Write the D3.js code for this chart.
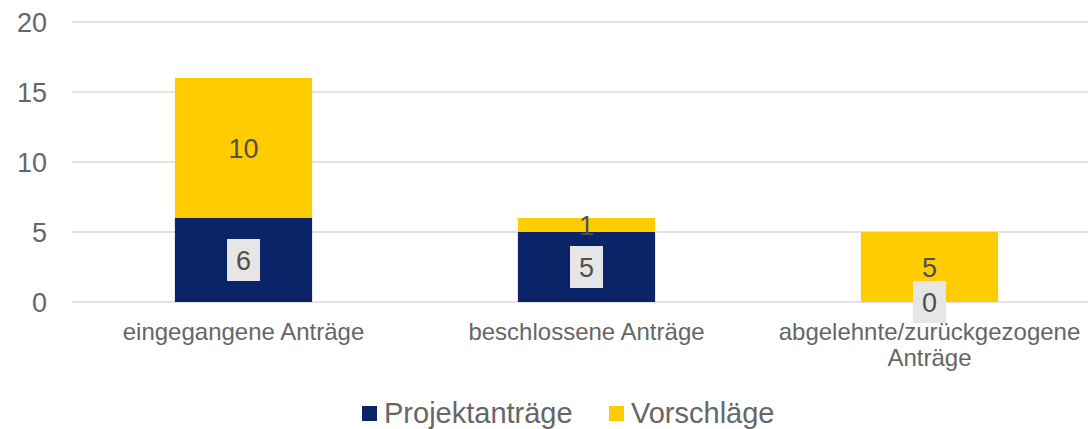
<!DOCTYPE html>
<html>
<head>
<meta charset="utf-8">
<script src="https://cdn.jsdelivr.net/npm/d3@7"></script>
<style>
  body { margin: 0; background: #fff; }
  text { font-family: "Liberation Sans", Arial, sans-serif; }
</style>
</head>
<body>
<svg id="chart" width="1088" height="429"></svg>
<script>
const categories = ["eingegangene Anträge", "beschlossene Anträge", "abgelehnte/zurückgezogene Anträge"]
const projektantraege = [6, 5, 0]
const vorschlaege = [10, 1, 5]
const yTicks = [0, 5, 10, 15, 20]
const seriesNames = ["Projektanträge", "Vorschläge"]

const colors = ["#0b2468", "#ffcc00"]
const textColor = "#666666"

const svg = d3.select("#chart")

const x = d3.scaleBand()
    .domain(categories)
    .range([72, 1101])
    .paddingInner(0.6)
    .paddingOuter(0.3)

const y = d3.scaleLinear()
    .domain([0, 20])
    .range([302, 22])

//gridlines + y labels
const grid = svg.append("g")
grid.selectAll("line")
    .data(yTicks)
    .join("line")
    .attr("x1", 72)
    .attr("x2", 1088)
    .attr("y1", d => y(d))
    .attr("y2", d => y(d))
    .attr("stroke", "#d9d9d9")
    .attr("stroke-width", 1.5)

grid.selectAll("text")
    .data(yTicks)
    .join("text")
    .attr("x", 47)
    .attr("y", d => y(d))
    .attr("dy", "0.36em")
    .attr("text-anchor", "end")
    .attr("font-size", 27)
    .attr("fill", textColor)
    .text(d => d)

const rows = categories.map((c, i) => ({cat: c, Projektanträge: projektantraege[i], Vorschläge: vorschlaege[i]}))
const stacked = d3.stack().keys(seriesNames)(rows)

const bars = svg.append("g")
stacked.forEach((s, si) => {
    bars.append("g")
    .attr("fill", colors[si])
    .selectAll("rect")
    .data(s)
    .join("rect")
    .attr("x", d => x(d.data.cat))
    .attr("width", x.bandwidth())
    .attr("y", d => y(d[1]))
    .attr("height", d => y(d[0]) - y(d[1]))
})

//data labels, Projektanträge have a grey box behind them
const labels = svg.append("g")
stacked.forEach((s, si) => {
    s.forEach(d => {
        const cx = x(d.data.cat) + x.bandwidth() / 2
        const cy = (y(d[0]) + y(d[1])) / 2
        const g = labels.append("g")
        if (si === 0) {
            g.append("rect")
            .attr("x", cx - 16.5)
            .attr("y", cy - 21)
            .attr("width", 33)
            .attr("height", 42)
            .attr("fill", "#e7e6e6")
        }
        g.append("text")
        .attr("x", cx)
        .attr("y", cy)
        .attr("dy", "0.36em")
        .attr("text-anchor", "middle")
        .attr("font-size", 27)
        .attr("fill", "#505050")
        .text(d[1] - d[0])
    })
})

//category labels, wrapped to the band step
const catG = svg.append("g")
categories.forEach(c => {
    const cx = x(c) + x.bandwidth() / 2
    const t = catG.append("text")
    .attr("x", cx)
    .attr("y", 331)
    .attr("text-anchor", "middle")
    .attr("font-size", 24)
    .attr("fill", textColor)
    const words = c.split(" ")
    let line = []
    let tspan = t.append("tspan").attr("x", cx).attr("dy", "0.36em")
    words.forEach(w => {
        line.push(w)
        tspan.text(line.join(" "))
        if (tspan.node().getComputedTextLength() > x.step() * 0.95 && line.length > 1) {
            line.pop()
            tspan.text(line.join(" "))
            line = [w]
            tspan = t.append("tspan").attr("x", cx).attr("dy", 26).text(w)
        }
    })
})

//legend
const legend = svg.append("g")
const legendPos = [362, 609]
seriesNames.forEach((n, i) => {
    legend.append("rect")
    .attr("x", legendPos[i])
    .attr("y", 406)
    .attr("width", 15)
    .attr("height", 15)
    .attr("fill", colors[i])
    legend.append("text")
    .attr("x", legendPos[i] + 22)
    .attr("y", 413)
    .attr("dy", "0.36em")
    .attr("font-size", 29)
    .attr("fill", textColor)
    .text(n)
})
</script>
</body>
</html>
